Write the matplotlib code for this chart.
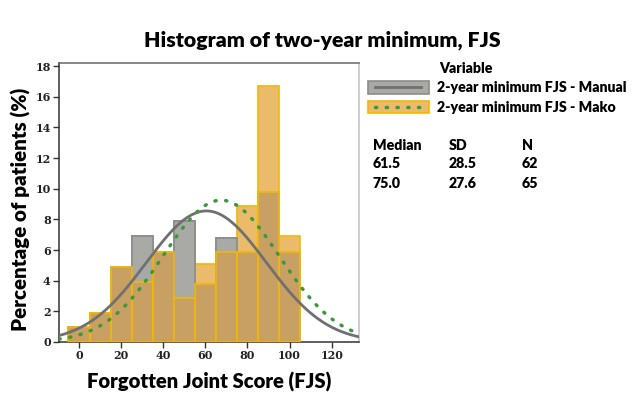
import numpy as np
import matplotlib
matplotlib.use("Agg")
import matplotlib.pyplot as plt
from matplotlib.patches import Patch, Rectangle
from matplotlib.lines import Line2D
from matplotlib.legend_handler import HandlerBase

# ---- data ----
bin_centers = [0, 10, 20, 30, 40, 50, 60, 70, 80, 90, 100]
manual_pct = [1.0, 1.9, 4.9, 6.9, 5.9, 7.9, 3.8, 6.8, 5.9, 9.8, 5.9]
mako_pct = [1.0, 1.9, 4.9, 3.9, 5.9, 2.9, 5.1, 5.9, 8.9, 16.7, 6.9]
series_labels = ["2-year minimum FJS - Manual", "2-year minimum FJS - Mako"]
curve_mean = [60.5, 67.5]
curve_sd = [28.5, 27.6]
curve_peak = [8.55, 9.25]
stat_headers = ["Median", "SD", "N"]
stat_rows = [["61.5", "28.5", "62"], ["75.0", "27.6", "65"]]
xticks = [0, 20, 40, 60, 80, 100, 120]
yticks = [0, 2, 4, 6, 8, 10, 12, 14, 16, 18]

GRAY = "#a9aaa5"
GRAY_EDGE = "#8c8c8a"
ORANGE = "#e9bb6a"
BROWN = "#c9a063"
GOLD = "#f2b705"
LINE_GRAY = "#707070"
GREEN = "#3a9a3a"
SANS = ["Lato", "DejaVu Sans"]

fig = plt.figure(figsize=(6.44, 3.96), dpi=100)
ax = fig.add_axes([59/644, 1-342/396, 300/644, 279/396])

x = np.array(bin_centers, dtype=float)
man = np.array(manual_pct)
mak = np.array(mako_pct)
w = 10
ax.bar(x, man, width=w, color=GRAY, edgecolor=GRAY_EDGE, linewidth=1.2, zorder=2)
ax.bar(x, mak, width=w, color=ORANGE, edgecolor=GOLD, linewidth=1.2, zorder=2)
ax.bar(x, np.where(man > mak, man, 0), width=w, color=GRAY, edgecolor=GRAY_EDGE, linewidth=1.2, zorder=3)
ax.bar(x, np.minimum(man, mak), width=w, color=BROWN, edgecolor=GOLD, linewidth=1.2, zorder=4)

xs = np.linspace(-9.5, 133, 400)
styles = [dict(color=LINE_GRAY, lw=2.0, ls="-"),
          dict(color=GREEN, lw=2.5, ls=(0, (0.35, 2.75)), dash_capstyle="round")]
for m, s, p, st in zip(curve_mean, curve_sd, curve_peak, styles):
    ys = p * np.exp(-0.5 * ((xs - m) / s) ** 2)
    ax.plot(xs, ys, zorder=5, **st)

ax.set_xlim(-9.5, 133)
ax.set_ylim(0, 18.2)
ax.set_xticks(xticks)
ax.set_yticks(yticks)
for lab in ax.get_xticklabels() + ax.get_yticklabels():
    lab.set_fontfamily("DejaVu Serif")
    lab.set_fontweight("bold")
    lab.set_fontsize(8)
    lab.set_color("#222222")
ax.tick_params(axis="both", length=4, width=1, color="#333333", pad=2)
ax.spines["left"].set_color("#333333")
ax.spines["bottom"].set_color("#333333")
ax.spines["top"].set_color("#666666")
ax.spines["right"].set_color("#c0c0c0")
for sp in ax.spines.values():
    sp.set_linewidth(1.1)

ax.set_xlabel("Forgotten Joint Score (FJS)", fontsize=14.6, fontweight="heavy",
              family=SANS, labelpad=8)
ax.set_ylabel("Percentage of patients (%)", fontsize=14.8, fontweight="heavy",
              family=SANS)
ax.yaxis.set_label_coords(-0.092, 0.475)
fig.suptitle("Histogram of two-year minimum, FJS", x=0.5, y=1-40/396, va="center",
             fontsize=15.3, fontweight="heavy", family=SANS)


class PatchLineHandler(HandlerBase):
    def create_artists(self, legend, orig_handle, xdescent, ydescent, width,
                       height, fontsize, trans):
        patch, line = orig_handle
        r = Rectangle((-xdescent, -ydescent), width, height,
                      facecolor=patch.get_facecolor(), edgecolor=patch.get_edgecolor(),
                      linewidth=patch.get_linewidth(), transform=trans)
        mx = 0.12 * width
        yc = -ydescent + height / 2
        ln = Line2D([-xdescent + mx, -xdescent + width - mx], [yc, yc])
        ln.update_from(line)
        ln.set_transform(trans)
        return [r, ln]


handles = [
    (Patch(facecolor=GRAY, edgecolor=GRAY_EDGE, linewidth=1.2),
     Line2D([], [], **styles[0])),
    (Patch(facecolor=ORANGE, edgecolor=GOLD, linewidth=1.2),
     Line2D([], [], **styles[1])),
]
leg = fig.legend(handles, series_labels, loc="upper left",
                 bbox_to_anchor=(355/644, 1-49/396), frameon=False,
                 title="Variable", handlelength=4.3, handleheight=1.0,
                 handletextpad=0.6, labelspacing=0.45,
                 handler_map={tuple: PatchLineHandler()},
                 prop=dict(family=SANS, weight="heavy", size=10.2))
leg.get_title().set_fontfamily(SANS)
leg.get_title().set_fontweight("heavy")
leg.get_title().set_fontsize(10.2)
leg._legend_box.align = "left"
leg.get_title().set_position((71, 0))

col_x = [373, 449, 522]
row_y = [145, 164, 183]
for cx, h in zip(col_x, stat_headers):
    fig.text(cx/644, 1-row_y[0]/396, h, va="center", ha="left",
             fontsize=10.2, fontweight="heavy", family=SANS)
for r, row in enumerate(stat_rows):
    for cx, v in zip(col_x, row):
        fig.text(cx/644, 1-row_y[r+1]/396, v, va="center", ha="left",
                 fontsize=10.2, fontweight="heavy", family=SANS)

fig.savefig("out.png", dpi=100)
